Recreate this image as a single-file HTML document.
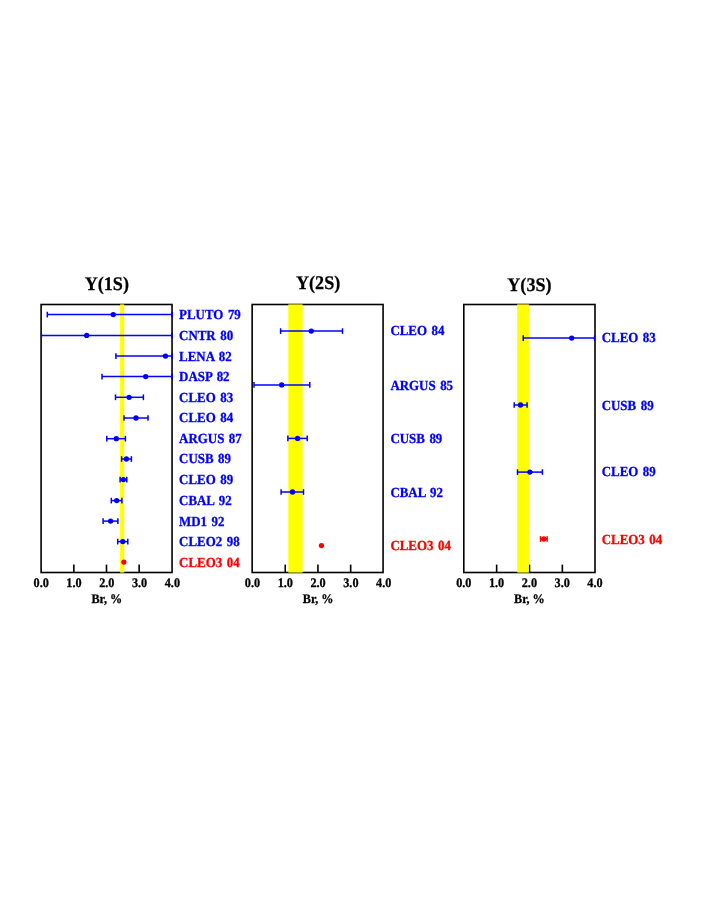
<!DOCTYPE html>
<html><head><meta charset="utf-8"><title>Br</title>
<style>
html,body{margin:0;padding:0;background:#fff;}
body{width:708px;height:917px;overflow:hidden;}
svg{display:block;will-change:transform;}
text{font-family:"Liberation Serif",serif;font-weight:bold;text-rendering:geometricPrecision;}
.t{font-size:19.3px;fill:#000;text-anchor:middle;stroke:#000;stroke-width:0.25px;}
.k{font-size:13.1px;fill:#000;text-anchor:middle;stroke:#000;stroke-width:0.3px;}
.a{font-size:13.1px;fill:#000;text-anchor:middle;stroke:#000;stroke-width:0.3px;}
.l{font-size:13.9px;stroke-width:0.3px;word-spacing:1.4px;}
.b{fill:#00f;stroke:#00f;}
.r{fill:#f00;stroke:#f00;}
</style></head><body>
<svg width="708" height="917" viewBox="0 0 708 917">
<rect x="0" y="0" width="708" height="917" fill="#fff"/>
<rect x="41.1" y="304.5" width="130.95" height="268.0" fill="none" stroke="#000" stroke-width="1.6"/>
<line x1="73.85" y1="572.5" x2="73.85" y2="564.6" stroke="#000" stroke-width="1.6"/>
<line x1="106.50" y1="572.5" x2="106.50" y2="564.6" stroke="#000" stroke-width="1.6"/>
<line x1="139.15" y1="572.5" x2="139.15" y2="564.6" stroke="#000" stroke-width="1.6"/>
<rect x="120.1" y="304.4" width="4.10" height="268.20" fill="#ff0"/>
<text class="k" transform="translate(41.20 587.4) scale(0.933 1)">0.0</text>
<text class="k" transform="translate(74.00 587.4) scale(0.933 1)">1.0</text>
<text class="k" transform="translate(106.80 587.4) scale(0.933 1)">2.0</text>
<text class="k" transform="translate(139.60 587.4) scale(0.933 1)">3.0</text>
<text class="k" transform="translate(172.40 587.4) scale(0.933 1)">4.0</text>
<text class="a" transform="translate(106.80 603.3) scale(0.93 1)">Br, %</text>
<text class="t" transform="translate(106.80 290.1) scale(0.94 1)">Y(1S)</text>
<g stroke="#00f" stroke-width="1.5" fill="#00f">
<line x1="47.3" y1="314.6" x2="172.05" y2="314.6"/>
<line x1="47.3" y1="311.75" x2="47.3" y2="317.45000000000005"/>
<line x1="171.95" y1="311.85" x2="171.95" y2="317.35" stroke-width="1.7"/>
<circle cx="113.2" cy="314.6" r="2.65" stroke="none"/></g>
<text class="l b" transform="translate(179.10 319.00) scale(0.93 1)">PLUTO 79</text>
<g stroke="#00f" stroke-width="1.5" fill="#00f">
<line x1="41.1" y1="335.4" x2="172.05" y2="335.4"/>
<line x1="41.45" y1="332.65" x2="41.45" y2="338.15" stroke-width="1.3"/>
<line x1="171.95" y1="332.65" x2="171.95" y2="338.15" stroke-width="1.7"/>
<circle cx="86.7" cy="335.4" r="2.65" stroke="none"/></g>
<text class="l b" transform="translate(179.10 339.80) scale(0.93 1)">CNTR 80</text>
<g stroke="#00f" stroke-width="1.5" fill="#00f">
<line x1="115.9" y1="356.1" x2="172.05" y2="356.1"/>
<line x1="115.9" y1="353.25" x2="115.9" y2="358.95000000000005"/>
<line x1="171.95" y1="353.35" x2="171.95" y2="358.85" stroke-width="1.7"/>
<circle cx="165.5" cy="356.1" r="2.65" stroke="none"/></g>
<text class="l b" transform="translate(179.10 360.50) scale(0.93 1)">LENA 82</text>
<g stroke="#00f" stroke-width="1.5" fill="#00f">
<line x1="102.0" y1="376.6" x2="172.05" y2="376.6"/>
<line x1="102.0" y1="373.75" x2="102.0" y2="379.45000000000005"/>
<line x1="171.95" y1="373.85" x2="171.95" y2="379.35" stroke-width="1.7"/>
<circle cx="145.7" cy="376.6" r="2.65" stroke="none"/></g>
<text class="l b" transform="translate(179.10 381.00) scale(0.93 1)">DASP 82</text>
<g stroke="#00f" stroke-width="1.5" fill="#00f">
<line x1="115.5" y1="397.3" x2="143.4" y2="397.3"/>
<line x1="115.5" y1="394.45" x2="115.5" y2="400.15000000000003"/>
<line x1="143.4" y1="394.45" x2="143.4" y2="400.15000000000003"/>
<circle cx="129.1" cy="397.3" r="2.65" stroke="none"/></g>
<text class="l b" transform="translate(179.10 401.70) scale(0.93 1)">CLEO 83</text>
<g stroke="#00f" stroke-width="1.5" fill="#00f">
<line x1="124.0" y1="418.0" x2="148.0" y2="418.0"/>
<line x1="124.0" y1="415.15" x2="124.0" y2="420.85"/>
<line x1="148.0" y1="415.15" x2="148.0" y2="420.85"/>
<circle cx="136.0" cy="418.0" r="2.65" stroke="none"/></g>
<text class="l b" transform="translate(179.10 422.40) scale(0.93 1)">CLEO 84</text>
<g stroke="#00f" stroke-width="1.5" fill="#00f">
<line x1="106.8" y1="438.7" x2="125.4" y2="438.7"/>
<line x1="106.8" y1="435.84999999999997" x2="106.8" y2="441.55"/>
<line x1="125.4" y1="435.84999999999997" x2="125.4" y2="441.55"/>
<circle cx="116.3" cy="438.7" r="2.65" stroke="none"/></g>
<text class="l b" transform="translate(179.10 443.10) scale(0.93 1)">ARGUS 87</text>
<g stroke="#00f" stroke-width="1.5" fill="#00f">
<line x1="121.6" y1="459.0" x2="131.4" y2="459.0"/>
<line x1="121.6" y1="456.15" x2="121.6" y2="461.85"/>
<line x1="131.4" y1="456.15" x2="131.4" y2="461.85"/>
<circle cx="126.4" cy="459.0" r="2.65" stroke="none"/></g>
<text class="l b" transform="translate(179.10 463.40) scale(0.93 1)">CUSB 89</text>
<g stroke="#00f" stroke-width="1.5" fill="#00f">
<line x1="120.1" y1="479.6" x2="126.8" y2="479.6"/>
<line x1="120.1" y1="476.75" x2="120.1" y2="482.45000000000005"/>
<line x1="126.8" y1="476.75" x2="126.8" y2="482.45000000000005"/>
<circle cx="123.4" cy="479.6" r="2.65" stroke="none"/></g>
<text class="l b" transform="translate(179.10 484.00) scale(0.93 1)">CLEO 89</text>
<g stroke="#00f" stroke-width="1.5" fill="#00f">
<line x1="111.3" y1="500.6" x2="121.9" y2="500.6"/>
<line x1="111.3" y1="497.75" x2="111.3" y2="503.45000000000005"/>
<line x1="121.9" y1="497.75" x2="121.9" y2="503.45000000000005"/>
<circle cx="116.7" cy="500.6" r="2.65" stroke="none"/></g>
<text class="l b" transform="translate(179.10 505.00) scale(0.93 1)">CBAL 92</text>
<g stroke="#00f" stroke-width="1.5" fill="#00f">
<line x1="103.1" y1="521.1" x2="117.9" y2="521.1"/>
<line x1="103.1" y1="518.25" x2="103.1" y2="523.95"/>
<line x1="117.9" y1="518.25" x2="117.9" y2="523.95"/>
<circle cx="110.6" cy="521.1" r="2.65" stroke="none"/></g>
<text class="l b" transform="translate(179.10 525.50) scale(0.93 1)">MD1 92</text>
<g stroke="#00f" stroke-width="1.5" fill="#00f">
<line x1="117.7" y1="541.6" x2="127.8" y2="541.6"/>
<line x1="117.7" y1="538.75" x2="117.7" y2="544.45"/>
<line x1="127.8" y1="538.75" x2="127.8" y2="544.45"/>
<circle cx="122.75" cy="541.6" r="2.65" stroke="none"/></g>
<text class="l b" transform="translate(179.10 546.00) scale(0.93 1)">CLEO2 98</text>
<g stroke="#f00" stroke-width="1.5" fill="#f00">
<circle cx="123.85" cy="562.1" r="2.65" stroke="none"/></g>
<text class="l r" transform="translate(179.10 566.50) scale(0.93 1)">CLEO3 04</text>
<rect x="252.15" y="304.5" width="130.92" height="268.0" fill="none" stroke="#000" stroke-width="1.6"/>
<line x1="285.22" y1="572.5" x2="285.22" y2="564.6" stroke="#000" stroke-width="1.6"/>
<line x1="317.94" y1="572.5" x2="317.94" y2="564.6" stroke="#000" stroke-width="1.6"/>
<line x1="350.66" y1="572.5" x2="350.66" y2="564.6" stroke="#000" stroke-width="1.6"/>
<rect x="288.3" y="304.4" width="14.30" height="268.20" fill="#ff0"/>
<text class="k" transform="translate(252.50 587.4) scale(0.933 1)">0.0</text>
<text class="k" transform="translate(285.30 587.4) scale(0.933 1)">1.0</text>
<text class="k" transform="translate(318.10 587.4) scale(0.933 1)">2.0</text>
<text class="k" transform="translate(350.90 587.4) scale(0.933 1)">3.0</text>
<text class="k" transform="translate(383.70 587.4) scale(0.933 1)">4.0</text>
<text class="a" transform="translate(318.10 603.3) scale(0.93 1)">Br, %</text>
<text class="t" transform="translate(318.10 289.0) scale(0.94 1)">Y(2S)</text>
<g stroke="#00f" stroke-width="1.5" fill="#00f">
<line x1="280.6" y1="331.1" x2="342.5" y2="331.1"/>
<line x1="280.6" y1="328.25" x2="280.6" y2="333.95000000000005"/>
<line x1="342.5" y1="328.25" x2="342.5" y2="333.95000000000005"/>
<circle cx="311.25" cy="331.1" r="2.65" stroke="none"/></g>
<text class="l b" transform="translate(390.40 335.30) scale(0.93 1)">CLEO 84</text>
<g stroke="#00f" stroke-width="1.5" fill="#00f">
<line x1="254.0" y1="384.9" x2="309.8" y2="384.9"/>
<line x1="254.0" y1="382.04999999999995" x2="254.0" y2="387.75"/>
<line x1="309.8" y1="382.04999999999995" x2="309.8" y2="387.75"/>
<circle cx="281.7" cy="384.9" r="2.65" stroke="none"/></g>
<text class="l b" transform="translate(390.40 389.50) scale(0.93 1)">ARGUS 85</text>
<g stroke="#00f" stroke-width="1.5" fill="#00f">
<line x1="287.85" y1="438.4" x2="307.2" y2="438.4"/>
<line x1="287.85" y1="435.54999999999995" x2="287.85" y2="441.25"/>
<line x1="307.2" y1="435.54999999999995" x2="307.2" y2="441.25"/>
<circle cx="297.6" cy="438.4" r="2.65" stroke="none"/></g>
<text class="l b" transform="translate(390.40 442.50) scale(0.93 1)">CUSB 89</text>
<g stroke="#00f" stroke-width="1.5" fill="#00f">
<line x1="281.1" y1="492.0" x2="303.5" y2="492.0"/>
<line x1="281.1" y1="489.15" x2="281.1" y2="494.85"/>
<line x1="303.5" y1="489.15" x2="303.5" y2="494.85"/>
<circle cx="292.5" cy="492.0" r="2.65" stroke="none"/></g>
<text class="l b" transform="translate(390.40 497.10) scale(0.93 1)">CBAL 92</text>
<g stroke="#f00" stroke-width="1.5" fill="#f00">
<circle cx="321.45" cy="545.6" r="2.65" stroke="none"/></g>
<text class="l r" transform="translate(390.40 550.45) scale(0.93 1)">CLEO3 04</text>
<rect x="463.8" y="304.5" width="131.20" height="268.0" fill="none" stroke="#000" stroke-width="1.6"/>
<line x1="496.65" y1="572.5" x2="496.65" y2="564.6" stroke="#000" stroke-width="1.6"/>
<line x1="529.50" y1="572.5" x2="529.50" y2="564.6" stroke="#000" stroke-width="1.6"/>
<line x1="562.35" y1="572.5" x2="562.35" y2="564.6" stroke="#000" stroke-width="1.6"/>
<rect x="517.2" y="304.4" width="11.70" height="268.20" fill="#ff0"/>
<text class="k" transform="translate(463.80 587.4) scale(0.933 1)">0.0</text>
<text class="k" transform="translate(496.60 587.4) scale(0.933 1)">1.0</text>
<text class="k" transform="translate(529.40 587.4) scale(0.933 1)">2.0</text>
<text class="k" transform="translate(562.20 587.4) scale(0.933 1)">3.0</text>
<text class="k" transform="translate(595.00 587.4) scale(0.933 1)">4.0</text>
<text class="a" transform="translate(529.40 603.3) scale(0.93 1)">Br, %</text>
<text class="t" transform="translate(529.40 291.0) scale(0.94 1)">Y(3S)</text>
<g stroke="#00f" stroke-width="1.5" fill="#00f">
<line x1="523.2" y1="338.1" x2="595.0" y2="338.1"/>
<line x1="523.2" y1="335.25" x2="523.2" y2="340.95000000000005"/>
<line x1="594.50" y1="335.35" x2="594.50" y2="340.85" stroke-width="1.3"/>
<circle cx="571.7" cy="338.1" r="2.65" stroke="none"/></g>
<text class="l b" transform="translate(601.70 342.00) scale(0.93 1)">CLEO 83</text>
<g stroke="#00f" stroke-width="1.5" fill="#00f">
<line x1="514.2" y1="405.0" x2="527.1" y2="405.0"/>
<line x1="514.2" y1="402.15" x2="514.2" y2="407.85"/>
<line x1="527.1" y1="402.15" x2="527.1" y2="407.85"/>
<circle cx="520.5" cy="405.0" r="2.65" stroke="none"/></g>
<text class="l b" transform="translate(601.70 409.90) scale(0.93 1)">CUSB 89</text>
<g stroke="#00f" stroke-width="1.5" fill="#00f">
<line x1="517.5" y1="472.1" x2="542.4" y2="472.1"/>
<line x1="517.5" y1="469.25" x2="517.5" y2="474.95000000000005"/>
<line x1="542.4" y1="469.25" x2="542.4" y2="474.95000000000005"/>
<circle cx="529.9" cy="472.1" r="2.65" stroke="none"/></g>
<text class="l b" transform="translate(601.70 476.00) scale(0.93 1)">CLEO 89</text>
<g stroke="#f00" stroke-width="1.5" fill="#f00">
<line x1="540.5500000000001" y1="539.0" x2="547.15" y2="539.0"/>
<line x1="540.5500000000001" y1="536.15" x2="540.5500000000001" y2="541.85"/>
<line x1="547.15" y1="536.15" x2="547.15" y2="541.85"/>
<circle cx="543.85" cy="539.0" r="2.65" stroke="none"/></g>
<text class="l r" transform="translate(601.70 544.35) scale(0.93 1)">CLEO3 04</text>
</svg></body></html>
